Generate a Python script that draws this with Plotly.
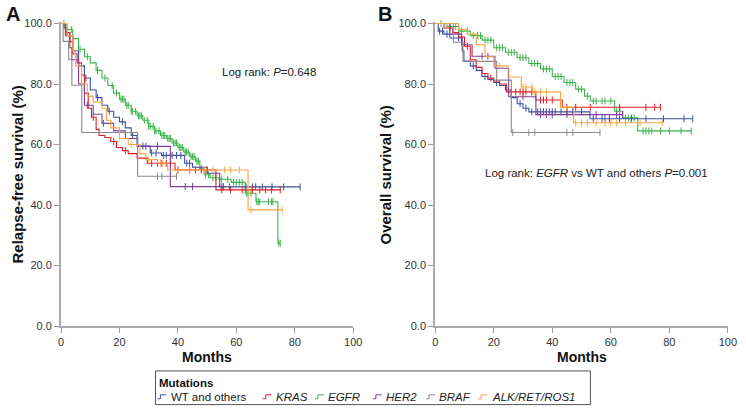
import plotly.graph_objects as go
from bisect import bisect_right

W, H = 746, 415
FONT = "Arial, 'Liberation Sans', sans-serif"

# ---------------- data ----------------
series_keys = ["WT", "KRAS", "EGFR", "HER2", "BRAF", "ALK"]
legend_labels = ["WT and others", "<i>KRAS</i>", "<i>EGFR</i>", "<i>HER2</i>", "<i>BRAF</i>", "<i>ALK/RET/ROS1</i>"]
colors = ["#3d4fa1", "#e31e24", "#3ab54a", "#7f3f98", "#8a8a8a", "#f7a541"]

# Panel A: relapse-free survival (months, %)
rfs_wt_t = [0, 1, 2, 4, 6, 8, 10, 12, 14, 16, 18, 20, 22, 24, 26, 30.5, 34.4, 42.3, 45, 50, 54.3]
rfs_wt_s = [100, 98.5, 96, 91, 86, 82, 78, 75.5, 73, 71, 69, 67.5, 65.5, 63, 59.5, 57.2, 56.4, 53.8, 52.5, 50.5, 46]
rfs_wt_end = 81.8
rfs_wt_cens = [3, 8.5, 12.5, 16.5, 21, 24.5, 28, 31, 32.5, 35, 36, 38, 39.5, 41, 43, 44, 54.8, 55.5, 57.6, 63.3, 65.5, 66.6, 68.9, 72.2, 76.2, 81.8]

rfs_kras_t = [0, 1.5, 3, 4, 5.5, 7, 8, 9.3, 10.4, 12, 13, 15, 17, 19, 21, 23, 26, 29.5, 39, 53]
rfs_kras_s = [100, 97, 94, 90, 87, 83, 77, 72, 69, 65, 63, 62.3, 61, 59, 58, 57, 55.5, 53.8, 51.6, 45]
rfs_kras_end = 75
rfs_kras_cens = [11, 18, 22, 31, 33, 34.5, 36, 37.5, 40, 44, 46, 48, 50, 55, 58, 62, 65.5, 68, 70, 72, 75]

rfs_egfr_t = [0, 2, 4, 6, 8, 10, 12, 14, 16, 18, 20, 22, 24, 26, 28, 30, 32, 34, 36, 38, 40, 42, 44, 46, 47.5, 49, 51, 54, 58.2, 63, 66.7, 74.2]
rfs_egfr_s = [100, 98, 95, 91.5, 89, 87, 84.5, 82, 79.5, 77, 75, 73, 71, 69.5, 68, 66, 64.5, 63, 62, 60.5, 59, 57.5, 56, 54.5, 52, 50, 49, 48.5, 47.5, 43.9, 41.1, 27.4]
rfs_egfr_end = 75
rfs_egfr_cens = [1, 3.5, 6.5, 9, 12.5, 15, 17.5, 19, 20.5, 21, 21.5, 22.5, 23, 24, 24.5, 25.5, 26.5, 27, 27.5, 28.5, 29.5, 30, 30.5,
                 31.5, 32, 32.5, 33.5, 34.5, 35, 35.5, 36.5, 37, 37.5, 38.5, 39, 39.5, 40.5, 41, 41.5, 42.5, 43, 43.5, 44.5,
                 45, 45.5, 46.5, 47, 48, 49.5, 50.5, 52, 53, 55, 57, 59, 60, 61, 62, 63.5, 64, 65, 67, 67.5, 68, 71, 72,
                 72.5, 74.5, 75]

rfs_her2_t = [0, 1.5, 3, 3.7, 6, 8, 11, 14, 18, 22, 26.2, 37.4]
rfs_her2_s = [100, 96, 92, 88, 80, 73, 70, 67, 64.5, 62, 59.4, 46.1]
rfs_her2_end = 56
rfs_her2_cens = [9, 14.5, 20, 29, 33, 42.5, 45, 55.5]

rfs_braf_t = [0, 0.7, 2.6, 3.7, 7.1, 26.2]
rfs_braf_s = [100, 94.1, 88.2, 79.6, 64, 49.5]
rfs_braf_end = 39.5
rfs_braf_cens = [33, 34.5, 39.5]

rfs_alk_t = [0, 2, 4, 5, 7, 9, 11, 14, 15.5, 17, 20, 23, 27, 29, 33, 36.5, 64]
rfs_alk_s = [100, 96, 91, 86, 80, 76, 74, 72, 68, 65.5, 62, 60, 57, 55, 53.9, 51.6, 38.4]
rfs_alk_end = 75.7
rfs_alk_cens = [24, 30, 34, 40, 44, 49, 52, 56, 58, 61, 65, 75.7]

# Panel B: overall survival (months, %)
os_wt_t = [0, 1, 3, 5, 9.2, 9.8, 12, 14, 16, 18, 20, 22, 24, 26, 28, 30, 32, 52.9]
os_wt_s = [100, 97.5, 96.5, 95.2, 90.9, 87.6, 86, 84.5, 82.5, 81.5, 80.5, 79.5, 78, 75.5, 73.5, 72, 70.8, 68.5]
os_wt_end = 88
os_wt_cens = [1.5, 2.5, 4, 8, 13, 17, 21, 25, 29, 31, 33, 35, 36, 37, 38, 39, 40, 41, 43, 45, 47, 50, 54, 57, 58, 59.5, 63, 67, 72, 78, 85, 88]

os_kras_t = [0, 3, 6, 8, 10, 12, 14, 16, 18, 20, 22, 24.3, 34.4, 43.4]
os_kras_s = [100, 98.5, 97, 95.5, 92.5, 88, 85.5, 83.5, 82, 81, 80, 77.4, 74.7, 72.3]
os_kras_end = 77
os_kras_cens = [5, 11, 19, 26, 27.5, 29, 30, 31, 33, 36, 37, 38, 40, 45, 48, 53, 63, 72, 75, 77]

os_egfr_t = [0, 4, 8, 12, 16, 20, 24, 28, 32, 36, 40, 44, 48, 51, 53, 61.3, 64.1, 69.2]
os_egfr_s = [100, 99, 97.5, 96, 94.5, 92, 90.5, 88.7, 86.8, 85, 82.5, 80.5, 78.3, 76, 74.4, 71, 68.8, 64.5]
os_egfr_end = 87.5
os_egfr_cens = [2, 5, 7, 9, 11, 13, 14.5, 15.5, 17, 18, 19, 21, 22, 23, 25, 26, 27, 29, 30, 31, 33, 34, 35, 37, 38, 39, 41, 42,
                43, 45, 46, 47, 49, 50, 52, 54, 55, 57, 58, 60, 62, 63, 65, 66, 67, 68, 71, 72, 73, 74, 77, 80, 84, 87.5]

os_her2_t = [0, 5, 9, 12.6, 20.4, 25.1, 34.4]
os_her2_s = [100, 96.5, 93, 89.2, 85.2, 75.8, 69.9]
os_her2_end = 64
os_her2_cens = [16, 18, 30, 36, 38, 40, 45, 55, 62, 64]

os_braf_t = [0, 6.2, 9.5, 21, 26]
os_braf_s = [100, 93.8, 87.5, 81.3, 64]
os_braf_end = 56.3
os_braf_cens = [26.5, 32, 34, 45, 47, 56.3]

os_alk_t = [0, 8, 11, 14, 17, 20, 24.9, 29.4, 33.3, 42.8, 47.3]
os_alk_s = [100, 98, 96.5, 93, 89, 86, 82.3, 79, 77.4, 72.3, 67.2]
os_alk_end = 77.6
os_alk_cens = [22, 30, 31, 33, 34, 36, 38, 45, 48, 50, 52, 55, 58, 60, 62, 65, 70, 77.6]

panel_a = [
    (rfs_wt_t, rfs_wt_s, rfs_wt_end, rfs_wt_cens),
    (rfs_kras_t, rfs_kras_s, rfs_kras_end, rfs_kras_cens),
    (rfs_egfr_t, rfs_egfr_s, rfs_egfr_end, rfs_egfr_cens),
    (rfs_her2_t, rfs_her2_s, rfs_her2_end, rfs_her2_cens),
    (rfs_braf_t, rfs_braf_s, rfs_braf_end, rfs_braf_cens),
    (rfs_alk_t, rfs_alk_s, rfs_alk_end, rfs_alk_cens),
]
panel_b = [
    (os_wt_t, os_wt_s, os_wt_end, os_wt_cens),
    (os_kras_t, os_kras_s, os_kras_end, os_kras_cens),
    (os_egfr_t, os_egfr_s, os_egfr_end, os_egfr_cens),
    (os_her2_t, os_her2_s, os_her2_end, os_her2_cens),
    (os_braf_t, os_braf_s, os_braf_end, os_braf_cens),
    (os_alk_t, os_alk_s, os_alk_end, os_alk_cens),
]

x_ticks = [0, 20, 40, 60, 80, 100]
y_ticks = [0, 20, 40, 60, 80, 100]


def step_at(ts, ss, c):
    i = bisect_right(ts, c) - 1
    return ss[max(i, 0)]


def px(x):
    return x / W


def py(y):
    return 1 - y / H


fig = go.Figure()

for panel, (xa, ya) in zip([panel_a, panel_b], [("x", "y"), ("x2", "y2")]):
    order = [2, 0, 1, 3, 4, 5]
    for k in order:
        ts, ss, end, cens = panel[k]
        col = colors[k]
        fig.add_trace(go.Scatter(
            x=list(ts) + [end], y=list(ss) + [ss[-1]],
            mode="lines", line=dict(color=col, width=1.1, shape="hv"),
            xaxis=xa, yaxis=ya, showlegend=False, hoverinfo="skip"))
        fig.add_trace(go.Scatter(
            x=cens, y=[step_at(ts, ss, c) for c in cens],
            mode="markers",
            marker=dict(symbol="line-ns-open", size=5, color=col, line=dict(color=col, width=1)),
            xaxis=xa, yaxis=ya, showlegend=False, hoverinfo="skip", cliponaxis=False))

ax_common = dict(
    showgrid=False, zeroline=False, showline=True, linecolor="#aaaaaa", linewidth=2,
    ticks="outside", ticklen=5, tickcolor="#999999", tickwidth=1,
    tickfont=dict(family=FONT, size=11, color="#333333"),
)

y_bottom = py(330)
y_top = py(20 - 0.6 * 3.1)

fig.update_layout(
    width=W, height=H, margin=dict(l=0, r=0, t=0, b=0),
    paper_bgcolor="white", plot_bgcolor="white",
    showlegend=False,
    xaxis=dict(domain=[px(59), px(356)], range=[0, 100], tickvals=x_ticks, anchor="y", **ax_common),
    yaxis=dict(domain=[y_bottom, y_top], range=[0, 100.6], tickvals=y_ticks, tickformat=".1f", anchor="x", **ax_common),
    xaxis2=dict(domain=[px(439.3), px(736.7)], range=[0, 100], tickvals=x_ticks, anchor="y2", **ax_common),
    yaxis2=dict(domain=[y_bottom, y_top], range=[0, 100.6], tickvals=y_ticks, tickformat=".1f", anchor="x2", **ax_common),
)

ann = []


def add_text(text, x, y, size, bold=False, angle=0, xanchor="center", color="#111111"):
    ann.append(dict(
        text=f"<b>{text}</b>" if bold else text, x=px(x), y=py(y), xref="paper", yref="paper",
        xanchor=xanchor, yanchor="middle", showarrow=False, textangle=angle,
        font=dict(family=FONT, size=size, color=color)))


add_text("A", 10, 10, 20, bold=True)
add_text("B", 388, 10, 20, bold=True)
add_text("Relapse-free survival (%)", 15, 175, 15, bold=True, angle=-90)
add_text("Overall survival (%)", 389, 175, 15, bold=True, angle=-90)
add_text("Months", 207.5, 362, 14, bold=True)
add_text("Months", 588, 362, 14, bold=True)
add_text("Log rank: <i>P</i>=0.648", 221, 70, 11.5, xanchor="left", color="#222222")
add_text("Log rank: <i>EGFR</i> vs WT and others <i>P</i>=0.001", 488, 173, 11.5, xanchor="left", color="#222222")

# legend (custom box)
shapes = [dict(type="rect", xref="paper", yref="paper", x0=px(155), x1=px(597), y0=py(376), y1=py(410.5),
               line=dict(color="#555555", width=1), fillcolor="rgba(0,0,0,0)")]
add_text("Mutations", 157, 388, 11.5, bold=True, xanchor="left")
icon_x = [157, 264, 317, 376, 430, 483]
text_x = [169, 275, 328, 387, 441, 495]
ly = 402.5
for lab, col, ix, tx in zip(legend_labels, colors, icon_x, text_x):
    path = (f"M {px(ix)},{py(ly + 2)} L {px(ix + 3)},{py(ly + 2)} L {px(ix + 3)},{py(ly - 2)} "
            f"L {px(ix + 9)},{py(ly - 2)}")
    shapes.append(dict(type="path", xref="paper", yref="paper", path=path, line=dict(color=col, width=1)))
    add_text(lab, tx, ly, 11.5, xanchor="left", color="#222222")

fig.update_layout(annotations=ann, shapes=shapes)

fig.write_html("out.html", config={"displayModeBar": False},
               post_script="document.body.style.margin='0px';")
